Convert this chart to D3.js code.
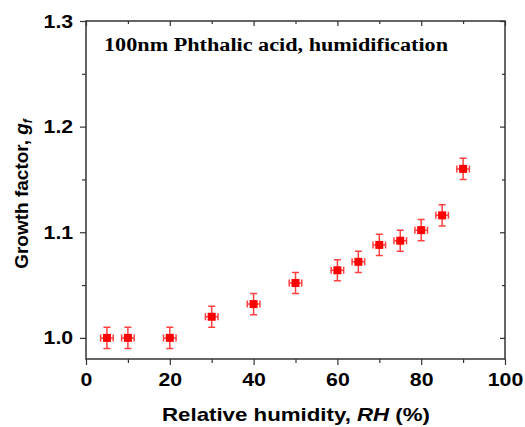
<!DOCTYPE html>
<html>
<head>
<meta charset="utf-8">
<script src="https://cdn.jsdelivr.net/npm/d3@7"></script>
<style>
  body { margin: 0; background: #fff; }
  svg { display: block; }
</style>
</head>
<body>
<svg id="chart"></svg>
<script>
const rh = [5, 10, 20, 30, 40, 50, 60, 65, 70, 75, 80, 85, 90];
const gf = [1.000, 1.000, 1.000, 1.020, 1.032, 1.052, 1.064, 1.072, 1.088, 1.092, 1.102, 1.116, 1.160];
const gfErr = [0.01, 0.01, 0.01, 0.01, 0.01, 0.01, 0.01, 0.01, 0.01, 0.01, 0.01, 0.01, 0.01];
const rhErr = [1.5, 1.5, 1.5, 1.5, 1.5, 1.5, 1.5, 1.5, 1.5, 1.5, 1.5, 1.5, 1.5];
const xTicks = [0, 20, 40, 60, 80, 100];
const yTicks = [1.0, 1.1, 1.2, 1.3];

const WIDTH = 525, HEIGHT = 427;
const PL = 86, PR = 505, PT = 21, PB = 359;

const svg = d3.select("#chart")
    .attr("width", WIDTH)
    .attr("height", HEIGHT);

const x = d3.scaleLinear().domain([0, 100]).range([PL, PR]);
const y = d3.scaleLinear().domain([0.98, 1.3]).range([PB, PT]);

const axisColor = "#333";
const tickFont = "bold 19px 'Liberation Sans', Arial, sans-serif";

// stretch text horizontally a bit (source figure is wide)
function stretch(sel, k) {
    sel.each(function () {
        const w = this.getComputedTextLength();
        if (w > 0) d3.select(this).attr("textLength", w * k).attr("lengthAdjust", "spacingAndGlyphs");
    });
}

// bottom axis (outward ticks), labels on majors only
const xMinor = d3.range(0, 101, 10);
const gx = svg.append("g").attr("transform", `translate(0,${PB})`)
    .call(d3.axisBottom(x).tickValues(xMinor).tickSize(6).tickSizeOuter(0)
        .tickFormat(d => xTicks.includes(d) ? d : ""));
gx.selectAll(".tick line").attr("y2", d => xTicks.includes(d) ? 6 : 4);

// top axis, inward
const gxt = svg.append("g").attr("transform", `translate(0,${PT})`)
    .call(d3.axisBottom(x).tickValues(xMinor).tickSize(5).tickSizeOuter(0).tickFormat(""));
gxt.selectAll(".tick line").attr("y2", d => xTicks.includes(d) ? 5 : 3);

// left axis outward
const yMinor = d3.range(1.0, 1.301, 0.05);
const isMajor = d => yTicks.some(t => Math.abs(t - d) < 1e-6);
const gy = svg.append("g").attr("transform", `translate(${PL},0)`)
    .call(d3.axisLeft(y).tickValues(yMinor).tickSize(6).tickSizeOuter(0)
        .tickFormat(d => isMajor(d) ? d3.format(".1f")(d) : ""));
gy.selectAll(".tick line").attr("x2", d => isMajor(d) ? -6 : -4);

// right axis inward
const gyr = svg.append("g").attr("transform", `translate(${PR},0)`)
    .call(d3.axisLeft(y).tickValues(yMinor).tickSize(5).tickSizeOuter(0).tickFormat(""));
gyr.selectAll(".tick line").attr("x2", d => isMajor(d) ? -5 : -3);

svg.selectAll(".domain").remove();
svg.selectAll(".tick line").attr("stroke", axisColor).attr("stroke-width", 1.2);
svg.selectAll(".tick text")
    .style("font", tickFont).attr("fill", "#000");
gx.selectAll(".tick text").attr("dy", "0.95em");
gy.selectAll(".tick text").attr("dx", "-0.2em");
stretch(svg.selectAll(".tick text"), 1.12);

// frame
svg.append("rect")
    .attr("x", PL).attr("y", PT)
    .attr("width", PR - PL).attr("height", PB - PT)
    .attr("fill", "none").attr("stroke", axisColor).attr("stroke-width", 1.5);

// data
const pts = rh.map((r, i) => ({ x: r, y: gf[i], ey: gfErr[i], ex: rhErr[i] }));
const red = "#ff0000";
const cap = 3.5;
const g = svg.append("g");

const eb = g.selectAll("g.pt").data(pts).enter().append("g").attr("class", "pt");
eb.append("path")
    .attr("d", d => {
        const cx = x(d.x), cy = y(d.y);
        const y0 = y(d.y - d.ey), y1 = y(d.y + d.ey);
        const x0 = x(d.x - d.ex), x1 = x(d.x + d.ex);
        return `M${cx},${y0}V${y1}M${cx - cap},${y0}H${cx + cap}M${cx - cap},${y1}H${cx + cap}` +
            `M${x0},${cy}H${x1}M${x0},${cy - cap}V${cy + cap}M${x1},${cy - cap}V${cy + cap}`;
    })
    .attr("fill", "none")
    .attr("stroke", red)
    .attr("stroke-opacity", 0.75)
    .attr("stroke-width", 1.5);
eb.append("rect")
    .attr("x", d => x(d.x) - 4)
    .attr("y", d => y(d.y) - 4)
    .attr("width", 8).attr("height", 8)
    .attr("fill", red);

// title inside plot
svg.append("text")
    .attr("x", 104).attr("y", 51)
    .attr("textLength", 344).attr("lengthAdjust", "spacingAndGlyphs")
    .style("font", "bold 18px 'Liberation Serif', 'Times New Roman', serif")
    .text("100nm Phthalic acid, humidification");

// axis labels
const labelFont = "bold 19px 'Liberation Sans', Arial, sans-serif";
const xl = svg.append("text")
    .attr("x", 162).attr("y", 421)
    .attr("textLength", 268).attr("lengthAdjust", "spacingAndGlyphs")
    .style("font", labelFont);
xl.append("tspan").text("Relative humidity, ");
xl.append("tspan").attr("font-style", "italic").text("RH");
xl.append("tspan").text(" (%)");

const yl = svg.append("text")
    .attr("transform", `translate(28,${(PT + PB) / 2 + 4}) rotate(-90)`)
    .attr("text-anchor", "middle")
    .style("font", labelFont);
yl.append("tspan").text("Growth factor, ");
yl.append("tspan").attr("font-style", "italic").text("g");
yl.append("tspan").attr("font-style", "italic").attr("font-size", "12px").attr("dy", "4").text("f");
</script>
</body>
</html>
